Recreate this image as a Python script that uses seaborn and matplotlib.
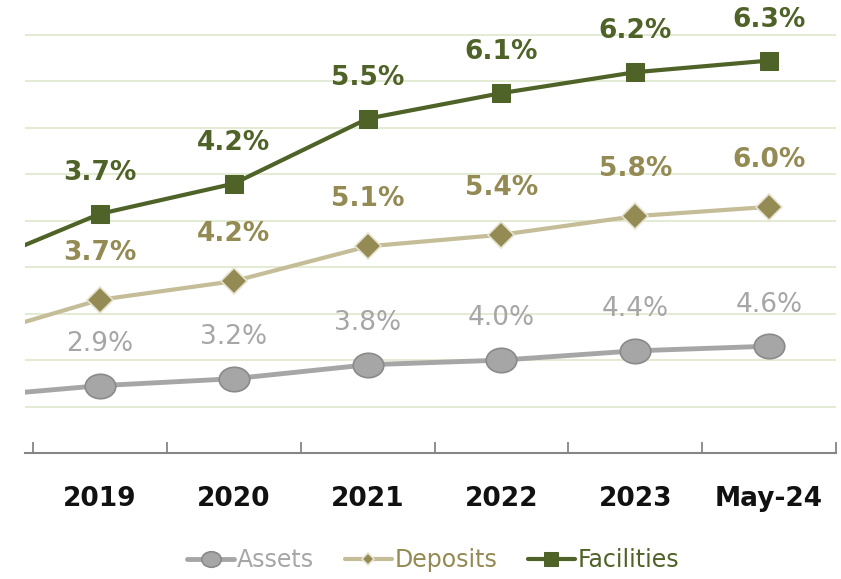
import numpy as np
import matplotlib
matplotlib.use("Agg")
import matplotlib.pyplot as plt
from matplotlib.path import Path
from matplotlib.transforms import Affine2D
import seaborn as sns

# data (stacked line chart: labels show each series' own value)
periods = ['2018', '2019', '2020', '2021', '2022', '2023', 'May-24']
assets = [2.4, 2.9, 3.2, 3.8, 4.0, 4.4, 4.6]
deposits = [2.5, 3.7, 4.2, 5.1, 5.4, 5.8, 6.0]
facilities = [3.0, 3.7, 4.2, 5.5, 6.1, 6.2, 6.3]
first_labelled = 1  # 2018 sits off the left edge, unlabelled

sns.set_style('white')
plt.rcParams['font.family'] = ['DejaVu Sans']

pos = np.arange(len(periods))
assets_s = np.array(assets)
deposits_s = assets_s + np.array(deposits)
facilities_s = deposits_s + np.array(facilities)

fig = plt.figure(figsize=(8.41, 5.79), dpi=100)
ax = fig.add_axes([0.0297, 0.2176, 0.9644, 0.7259])

ellipse = Path.unit_circle().transformed(Affine2D().scale(1.25, 1.0))

sns.lineplot(x=pos, y=assets_s, ax=ax, color='#a6a6a6', lw=3.5,
             marker=ellipse, markersize=22, markerfacecolor='#a6a6a6',
             markeredgecolor='#8a8a8a', markeredgewidth=1.2, label='Assets')
sns.lineplot(x=pos, y=deposits_s, ax=ax, color='#c4bd97', lw=3,
             marker='D', markersize=13, markerfacecolor='#948a54',
             markeredgecolor='#e6e2d0', markeredgewidth=1.2, label='Deposits')
sns.lineplot(x=pos, y=facilities_s, ax=ax, color='#4f6228', lw=3,
             marker='s', markersize=13, markerfacecolor='#4f6228',
             markeredgecolor='#4f6228', label='Facilities')

# value labels
for i in range(first_labelled, len(periods)):
    ax.annotate(f'{assets[i]:.1f}%', (pos[i], assets_s[i]), xytext=(0, 30),
                textcoords='offset points', ha='center', va='center',
                fontsize=19, color='#a6a6a6')
    ax.annotate(f'{deposits[i]:.1f}%', (pos[i], deposits_s[i]), xytext=(0, 34),
                textcoords='offset points', ha='center', va='center',
                fontsize=19, fontweight='bold', color='#948a54')
    ax.annotate(f'{facilities[i]:.1f}%', (pos[i], facilities_s[i]), xytext=(0, 29.5),
                textcoords='offset points', ha='center', va='center',
                fontsize=19, fontweight='bold', color='#4f6228')

ax.set_yticks(np.arange(2, 19, 2))
ax.yaxis.grid(True, color='#dfe8cc', lw=1.2)
ax.set_axisbelow(True)
ax.tick_params(axis='y', left=False, labelleft=False)

ax.set_xticks(pos, periods)
ax.set_xticks(pos + 0.5, minor=True)
ax.tick_params(axis='x', which='major', length=0, pad=24, labelsize=19,
               labelcolor='#111111')
for t in ax.get_xticklabels():
    t.set_fontweight('bold')
ax.tick_params(axis='x', which='minor', direction='in', length=8, width=1.3,
               color='#868686', bottom=True)
ax.set_xlabel('')
ax.set_ylabel('')
ax.set_xlim(0.44, 6.5)
ax.set_ylim(0, 18.1)

for s in ['top', 'right', 'left']:
    ax.spines[s].set_visible(False)
ax.spines['bottom'].set_color('#868686')
ax.spines['bottom'].set_linewidth(1.5)

ax.legend_.remove()
handles, labels = ax.get_legend_handles_labels()
leg = fig.legend(handles, labels, loc='center', bbox_to_anchor=(0.515, 0.033),
                 ncol=3, frameon=False, fontsize=17, handlelength=2.0,
                 handletextpad=0.1, columnspacing=1.3)
for h, ms in zip(leg.legend_handles, [14, 6, 10]):
    h.set_markersize(ms)
for txt, c in zip(leg.get_texts(), ['#a6a6a6', '#948a54', '#4f6228']):
    txt.set_color(c)

fig.savefig('out.png', dpi=100)
